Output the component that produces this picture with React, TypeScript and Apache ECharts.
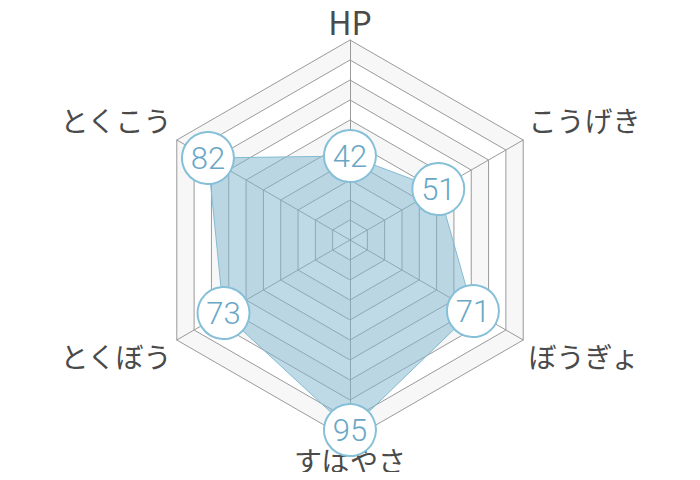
import React, { useEffect, useRef } from 'react';
import * as echarts from 'echarts';

// listed in drawing order (ECharts goes counter-clockwise from the top)
const statNames = ['HP', 'とくこう', 'とくぼう', 'すばやさ', 'ぼうぎょ', 'こうげき'];
const statValues = [42, 82, 73, 95, 71, 51];
const statMax = 100;

const upperNames = ['とくこう', 'こうげき'];
const lowerNames = ['とくぼう', 'ぼうぎょ'];

const App: React.FC = () => {
  const chartRef = useRef<HTMLDivElement>(null);

  useEffect(() => {
    if (!chartRef.current) return;
    const chart = echarts.init(chartRef.current, null, { renderer: 'svg' });

    const jp = '"Noto Sans CJK JP", "Noto Sans", sans-serif';

    const options = {
      animation: false,
      textStyle: { fontFamily: jp },
      radar: {
        center: [350, 240],
        radius: 200,
        startAngle: 90,
        splitNumber: 10,
        shape: 'polygon',
        indicator: statNames.map((name) => ({ name, max: statMax, min: 0 })),
        nameGap: 6,
        axisName: {
          color: '#4a4a4a',
          fontSize: 28,
          fontFamily: jp,
          formatter: (name: string) => {
            if (upperNames.includes(name)) return '{up|' + name + '}';
            if (lowerNames.includes(name)) return '{down|' + name + '}';
            if (name === 'HP') return '{hp|' + name + '}';
            return name;
          },
          rich: {
            up: { fontSize: 28, color: '#4a4a4a', fontFamily: jp, padding: [0, 0, 34, 0] },
            down: { fontSize: 28, color: '#4a4a4a', fontFamily: jp, padding: [26, 0, 0, 0] },
            hp: { fontSize: 32, lineHeight: 27, color: '#4a4a4a', fontFamily: jp },
          },
        },
        axisLine: { lineStyle: { color: '#9a9a9a', width: 1 } },
        splitLine: { lineStyle: { color: '#9a9a9a', width: 1 } },
        splitArea: { show: true, areaStyle: { color: ['#ffffff', '#f7f7f7'] } },
      },
      series: [
        {
          type: 'radar',
          symbol: 'circle',
          symbolSize: 52,
          itemStyle: { color: '#ffffff', borderColor: '#86c0d8', borderWidth: 2 },
          lineStyle: { color: '#86bdd4', width: 1 },
          areaStyle: { color: '#7fb6cf', opacity: 0.5 },
          label: {
            show: true,
            position: 'inside',
            color: '#6aa7c6',
            fontSize: 31,
            fontWeight: 300,
            fontFamily: 'Roboto, "Noto Sans", sans-serif',
          },
          data: [{ value: statValues, name: 'stats' }],
        },
      ],
    };
    chart.setOption(options);

    return () => {
      chart.dispose();
    };
  }, []);

  return <div ref={chartRef} style={{ width: '700px', height: '480px', margin: '-8px' }} />;
};

export default App;
